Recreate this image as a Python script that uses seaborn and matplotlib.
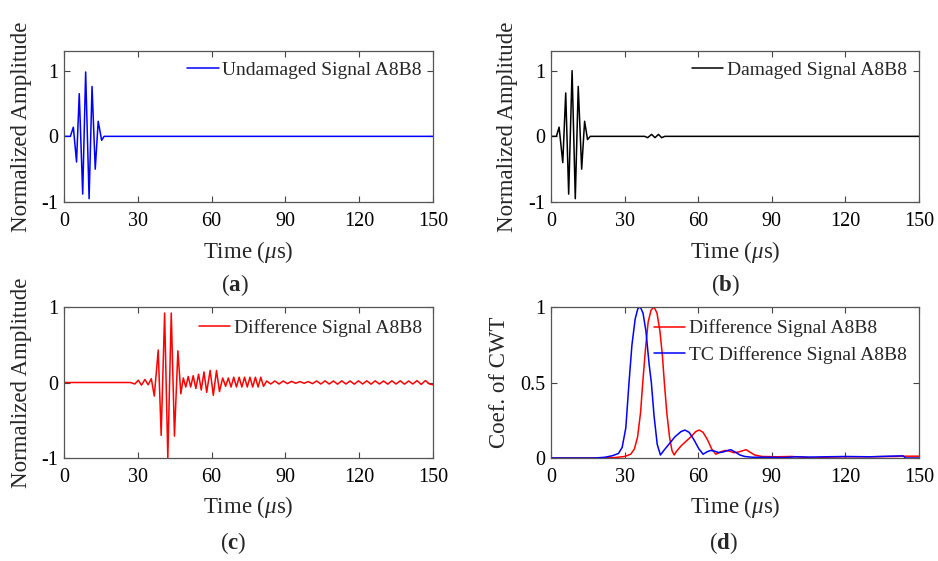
import numpy as np
import pandas as pd
import matplotlib
matplotlib.use("Agg")
import matplotlib.pyplot as plt
import seaborn as sns

# ---------------- data ----------------
# (a) undamaged signal: extrema of the tone burst
a_time = [0, 2.6, 3.8, 5.1, 6.2, 7.6, 8.8, 10.2, 11.4, 12.7, 13.9, 15.3, 16.3, 150]
a_amp = [0, 0, 0.14, -0.39, 0.65, -0.88, 0.98, -0.95, 0.76, -0.50, 0.23, -0.06, 0, 0]

# (b) damaged signal
b_time = [0, 2.2, 3.3, 4.8, 6.0, 7.2, 8.6, 9.9, 11.1, 12.5, 13.7, 14.9, 16.0,
          38.2, 39.4, 41.0, 42.4, 43.8, 45.1, 46.4, 150]
b_amp = [0, 0, 0.14, -0.40, 0.66, -0.88, 1.0, -0.95, 0.76, -0.50, 0.23, -0.05, 0,
         0, -0.02, 0.03, -0.02, 0.03, -0.02, 0, 0]

# (c) difference signal
c_time = [0, 27.0, 28.8, 30.2, 31.5, 32.9, 34.2, 35.5,
          36.7, 38.3, 39.5, 40.9, 42.2, 43.6, 44.9, 46.3, 47.5,
          48.5, 49.5, 50.5, 51.5, 52.5, 53.6, 54.7, 55.8, 56.9, 58.0, 59.4, 60.7,
          62.0, 63.2, 64.5, 65.7, 66.8, 67.9, 69.0, 70.1, 71.2, 72.3, 73.4, 74.5,
          75.6, 76.7, 77.8, 78.9, 80.0, 81.1, 82.4,
          84.0, 85.7, 87.4, 89.1, 90.8, 92.5, 94.2, 95.9, 97.6, 99.3, 101.0,
          102.7, 104.4, 106.1, 107.8, 109.5, 111.2, 112.9, 114.6, 116.3, 118.0,
          119.7, 121.4, 123.1, 124.8, 126.5, 128.2, 129.9, 131.6, 133.3, 135.0,
          136.7, 138.4, 140.1, 141.8, 143.5, 145.2, 146.9, 148.6, 150.0]
c_amp = [0, 0, -0.02, 0.03, -0.035, 0.04, -0.03, 0.05,
         -0.18, 0.43, -0.70, 0.92, -1.0, 0.92, -0.71, 0.42, -0.15,
         0.06, -0.06, 0.08, -0.06, 0.09, -0.08, 0.11, -0.10, 0.14, -0.13, 0.16, -0.17,
         0.16, -0.12, 0.06, -0.05, 0.06, -0.06, 0.07, -0.06, 0.07, -0.06, 0.07, -0.06,
         0.07, -0.06, 0.07, -0.06, 0.07, -0.05, 0.02,
         -0.02, 0.02, -0.02, 0.02, -0.015, 0.015, -0.01, 0.012, -0.01, 0.012, -0.015,
         0.02, -0.02, 0.022, -0.02, 0.02, -0.022, 0.022, -0.02, 0.02, -0.022,
         0.022, -0.02, 0.022, -0.022, 0.022, -0.02, 0.02, -0.022, 0.022, -0.02,
         0.022, -0.022, 0.02, -0.02, 0.025, -0.025, 0.025, -0.02, -0.03]

# (d) CWT coefficients
d_red_time = [0, 20, 26, 30, 32.5, 34.0, 35.3, 36.5, 37.4, 38.5, 39.6, 40.8, 42.0,
              43.2, 44.4, 45.4, 46.2, 47.2, 48.3, 49.3, 50.2, 51.2, 53.0, 55.0,
              57.0, 59.0, 60.4, 62.0, 63.8, 65.5, 67.2, 69.0, 71.0, 72.8, 74.5,
              76.5, 78.5, 79.5, 81.0, 83.0, 86, 92, 98, 103, 108, 112, 120, 130,
              140, 145, 150]
d_red_coef = [0, 0, 0.003, 0.01, 0.025, 0.06, 0.14, 0.3, 0.5, 0.72, 0.9, 0.98, 1.0,
              0.96, 0.84, 0.68, 0.5, 0.3, 0.14, 0.05, 0.02, 0.045, 0.08, 0.11,
              0.14, 0.175, 0.185, 0.17, 0.12, 0.06, 0.025, 0.04, 0.05, 0.045, 0.035,
              0.04, 0.05, 0.055, 0.04, 0.02, 0.01, 0.008, 0.01, 0.005, 0.0, 0.005,
              0.008, 0.008, 0.01, 0.012, 0.012]
d_blue_time = [0, 18, 22, 25, 27.5, 29.0, 30.5, 31.8, 33.0, 34.3, 35.4, 36.4, 37.5,
               38.7, 40.0, 40.9, 42.0, 43.3, 44.6, 46.0, 48.0, 50.5, 53.0, 54.6,
               56.3, 58.3, 60.3, 62.0, 63.5, 65.0, 66.8, 68.5, 70.2, 72.0, 73.3,
               75.0, 77.0, 79.0, 82.0, 88, 95, 100, 105, 112, 120, 130, 138, 143.5,
               144.5, 150]
d_blue_coef = [0, 0, 0.005, 0.015, 0.03, 0.07, 0.2, 0.5, 0.75, 0.92, 0.99, 1.0, 0.96,
               0.84, 0.62, 0.5, 0.28, 0.09, 0.02, 0.05, 0.09, 0.14, 0.175, 0.185,
               0.17, 0.12, 0.06, 0.025, 0.04, 0.05, 0.045, 0.035, 0.04, 0.05, 0.055,
               0.04, 0.02, 0.01, 0.005, 0.005, 0.003, 0.008, 0.006, 0.008, 0.01,
               0.008, 0.012, 0.014, 0.0, 0.0]

x_ticks = [0, 30, 60, 90, 120, 150]
amp_ticks = [-1, 0, 1]
cwt_ticks = [0, 0.5, 1]

# ---------------- style ----------------
sns.set_theme(style="ticks")
plt.rcParams["font.family"] = ["Liberation Serif", "DejaVu Serif"]
plt.rcParams["mathtext.fontset"] = "custom"
plt.rcParams["mathtext.rm"] = "Liberation Serif"
plt.rcParams["mathtext.it"] = "Liberation Serif:italic"
plt.rcParams["mathtext.bf"] = "Liberation Serif:bold"
plt.rcParams["axes.unicode_minus"] = False

W, H = 938, 561
fig = plt.figure(figsize=(W / 100, H / 100), dpi=100)


def make_ax(left, top, right, bottom):
    return fig.add_axes([left / W, 1 - bottom / H, (right - left) / W, (bottom - top) / H])


ax_a = make_ax(64, 51, 433, 202)
ax_b = make_ax(551, 51, 919, 202)
ax_c = make_ax(64, 307, 433, 458)
ax_d = make_ax(551, 307, 919, 458)

LW = 1.1
sns.lineplot(x=a_time, y=a_amp, ax=ax_a, color="#0000ff", lw=LW,
             label="Undamaged Signal A8B8")
sns.lineplot(x=b_time, y=b_amp, ax=ax_b, color="#000000", lw=LW,
             label="Damaged Signal A8B8")
sns.lineplot(x=c_time, y=c_amp, ax=ax_c, color="#ff0000", lw=LW,
             label="Difference Signal A8B8")
sns.lineplot(x=d_red_time, y=d_red_coef, ax=ax_d, color="#ff0000", lw=LW,
             label="Difference Signal A8B8")
sns.lineplot(x=d_blue_time, y=d_blue_coef, ax=ax_d, color="#0000ff", lw=LW,
             label="TC Difference Signal A8B8")

xlabel = r"Time ($\mu$s)"
for ax, ylab, ylim, yt, lx, lyx, leg_xy in [
    (ax_a, "Normalized Amplitude", (-1, 1.3), amp_ticks, -0.1165, -0.331, (0.970, 0.874)),
    (ax_b, "Normalized Amplitude", (-1, 1.3), amp_ticks, -0.117, -0.331, (0.967, 0.874)),
    (ax_c, "Normalized Amplitude", (-1, 1), amp_ticks, -0.1165, -0.325, (0.970, 0.861)),
    (ax_d, "Coef. of CWT", (0, 1), cwt_ticks, -0.139, -0.325, (0.967, 0.77)),
]:
    ax.set_xlim(0, 150)
    ax.set_ylim(*ylim)
    ax.set_xticks(x_ticks)
    ax.set_yticks(yt)
    ax.set_yticklabels([("%g" % v) for v in yt])
    ax.tick_params(direction="in", top=True, right=True, length=4, width=0.8,
                   color="#444444", labelsize=14.5, labelcolor="black")
    ax.tick_params(axis="x", pad=7)
    ax.tick_params(axis="y", pad=4)
    for s in ax.spines.values():
        s.set_visible(True)
        s.set_color("#555555")
        s.set_linewidth(0.9)
    ax.set_xlabel(xlabel, fontsize=16.5, va="center")
    ax.set_ylabel(ylab, fontsize=16.5, va="center")
    ax.yaxis.set_label_coords(lx, 0.5)
    ax.xaxis.set_label_coords(0.5, lyx)
    ax.legend(loc="center right", bbox_to_anchor=leg_xy, frameon=False,
              fontsize=14, handlelength=1.6, handletextpad=0.2,
              borderpad=0, borderaxespad=0, labelspacing=0.45)
    ax.grid(False)

for txt, x, y in [("a", 235, 285), ("b", 725, 285), ("c", 233, 543), ("d", 723, 543)]:
    fig.text(x / W, 1 - y / H, "(" + r"$\mathbf{" + txt + "}$" + ")",
             ha="center", va="center", fontsize=16.5)

fig.savefig("out.png", dpi=100)
